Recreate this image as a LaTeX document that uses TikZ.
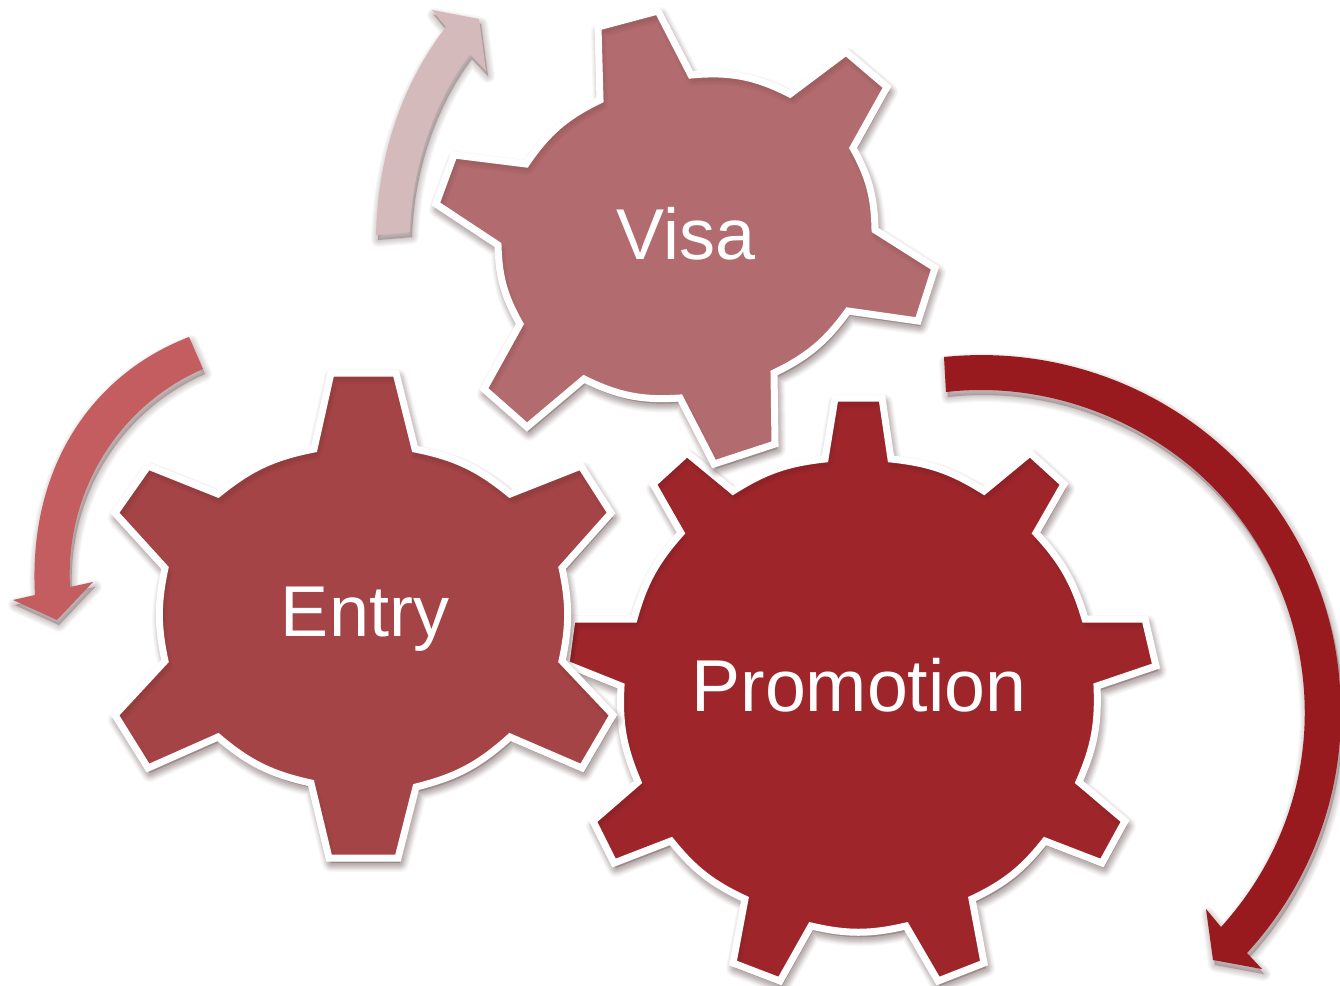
\documentclass[tikz,border=0pt]{standalone}
\usepackage{fontspec}
\setmainfont{Liberation Sans}
\definecolor{visared}{HTML}{B26B6E}
\definecolor{entryred}{HTML}{A44446}
\definecolor{promored}{HTML}{9E262B}
\definecolor{arrowlight}{HTML}{D5BABC}
\definecolor{arrowmid}{HTML}{C45D60}
\definecolor{arrowdark}{HTML}{981A1E}
\definecolor{shadowred}{HTML}{3A1A1C}

\tikzset{
  gearline/.style={draw=white,line width=7pt,line join=miter,miter limit=4},
  gearlabel/.style={text=white,inner sep=0pt},
  softshadow/.style={draw=shadowred,fill=shadowred,draw opacity=.035,fill opacity=.035,line join=round,shift={(2,5)}},
  innershadow/.style={draw=shadowred,opacity=.03,line join=round,shift={(2,5)}}
}

% outlines, clockwise from the top tooth
\newcommand{\gearvisa}{(598,27) -- (658,11) -- (691,75) to[bend left=16] (790,94) -- (846,52) -- (887,87) -- (853,148) to[bend left=14] (875,230) -- (935,268) -- (918,321) -- (848,311) to[bend left=14] (774,373) -- (775,444) -- (714,464) -- (680,398) to[bend left=15] (584,379) -- (527,427) -- (484,389) -- (520,324) to[bend left=14] (498,245) -- (436,204) -- (454,155) -- (526,164) to[bend left=15] (600,100) -- cycle}
\newcommand{\gearentry}{(331,373) -- (396,373) -- (415,449) to[bend left=14] (510,494) -- (581,466) -- (611,513) -- (562,568) to[bend left=12] (562,661) -- (613,715) -- (582,768) -- (510,737) to[bend left=14] (416,787) -- (398,858) -- (329,858) -- (311,783) to[bend left=14] (218,737) -- (148,768) -- (115,715) -- (165,661) to[bend left=12] (165,568) -- (115,513) -- (148,466) -- (218,494) to[bend left=14] (314,449) -- cycle}
\newcommand{\gearpromo}{(835,398) -- (882,398) -- (891,459) to[bend left=13] (984,491) -- (1030,453) -- (1064,484) -- (1036,533) to[bend left=13] (1085,619) -- (1145,619) -- (1156,666) -- (1097,686) to[bend left=13] (1079,782) -- (1125,821) -- (1102,863) -- (1045,841) to[bend left=13] (972,899) -- (984,963) -- (938,981) -- (906,926) to[bend left=13] (811,926) -- (780,981) -- (733,963) -- (745,899) to[bend left=13] (671,841) -- (614,863) -- (593,821) -- (638,782) to[bend left=13] (621,686) -- (566,664) -- (572,619) -- (634,619) to[bend left=13] (681,533) -- (653,484) -- (687,453) -- (733,491) to[bend left=13] (825,459) -- cycle}

\newcommand{\arrowvisa}{(376,235) .. controls (378,150) and (405,80) .. (446,27) -- (432,10) -- (479,19) -- (486,71) -- (470,54) .. controls (435,100) and (412,165) .. (410,232) -- cycle}
\newcommand{\arrowentry}{(189,337) .. controls (90,375) and (28,470) .. (35,595) -- (13,600) -- (57,620) -- (93,582) -- (70,587) .. controls (65,490) and (120,405) .. (203,369) -- cycle}
\newcommand{\arrowpromo}{(944,357) .. controls (1041,347) and (1138,376) .. (1213,438.5) .. controls (1288,501) and (1334,591) .. (1340,688) .. controls (1347,786) and (1313,881) .. (1247,953) -- (1262,969) -- (1213,960) -- (1206,909) -- (1221,927) .. controls (1280,862) and (1310,778) .. (1304,691) .. controls (1298,603) and (1257,522) .. (1190,466) .. controls (1122,410) and (1033,382) .. (946,392) -- cycle}

\begin{document}
\begin{tikzpicture}[x=1pt,y=-1pt]
\useasboundingbox (0,0) rectangle (1340,985);

% arrows
\foreach \w in {14,12,10,8,6,4,2,1} {
\path[softshadow,draw,fill,line width=\w pt] \arrowvisa;
\path[softshadow,draw,fill,line width=\w pt] \arrowentry;
\path[softshadow,draw,fill,line width=\w pt] \arrowpromo;
}
\fill[arrowlight] \arrowvisa;
\fill[arrowmid] \arrowentry;
\fill[arrowdark] \arrowpromo;

% gears
\begin{scope}
\foreach \w in {18,16,14,12,10,8,6,4} {\path[softshadow,draw,fill,line width=\w pt] \gearpromo;}
\fill[promored] \gearpromo;
\foreach \w in {12,9,6,3} {\draw[innershadow,line width=\w pt] \gearpromo;}
\draw[gearline] \gearpromo;
\end{scope}

\begin{scope}
\foreach \w in {18,16,14,12,10,8,6,4} {\path[softshadow,draw,fill,line width=\w pt] \gearentry;}
\fill[entryred] \gearentry;
\foreach \w in {12,9,6,3} {\draw[innershadow,line width=\w pt] \gearentry;}
\draw[gearline] \gearentry;
\end{scope}

\begin{scope}
\foreach \w in {18,16,14,12,10,8,6,4} {\path[softshadow,draw,fill,line width=\w pt] \gearvisa;}
\fill[visared] \gearvisa;
\foreach \w in {12,9,6,3} {\draw[innershadow,line width=\w pt] \gearvisa;}
\draw[gearline] \gearvisa;
\end{scope}

\node[gearlabel] (visa) at (686,234) {\fontsize{72}{80}\selectfont Visa};
\node[gearlabel] (entry) at (365,619) {\fontsize{72}{80}\selectfont Entry};
\node[gearlabel] (promotion) at (859,685) {\fontsize{73.5}{80}\selectfont Promotion};

\end{tikzpicture}
\end{document}
